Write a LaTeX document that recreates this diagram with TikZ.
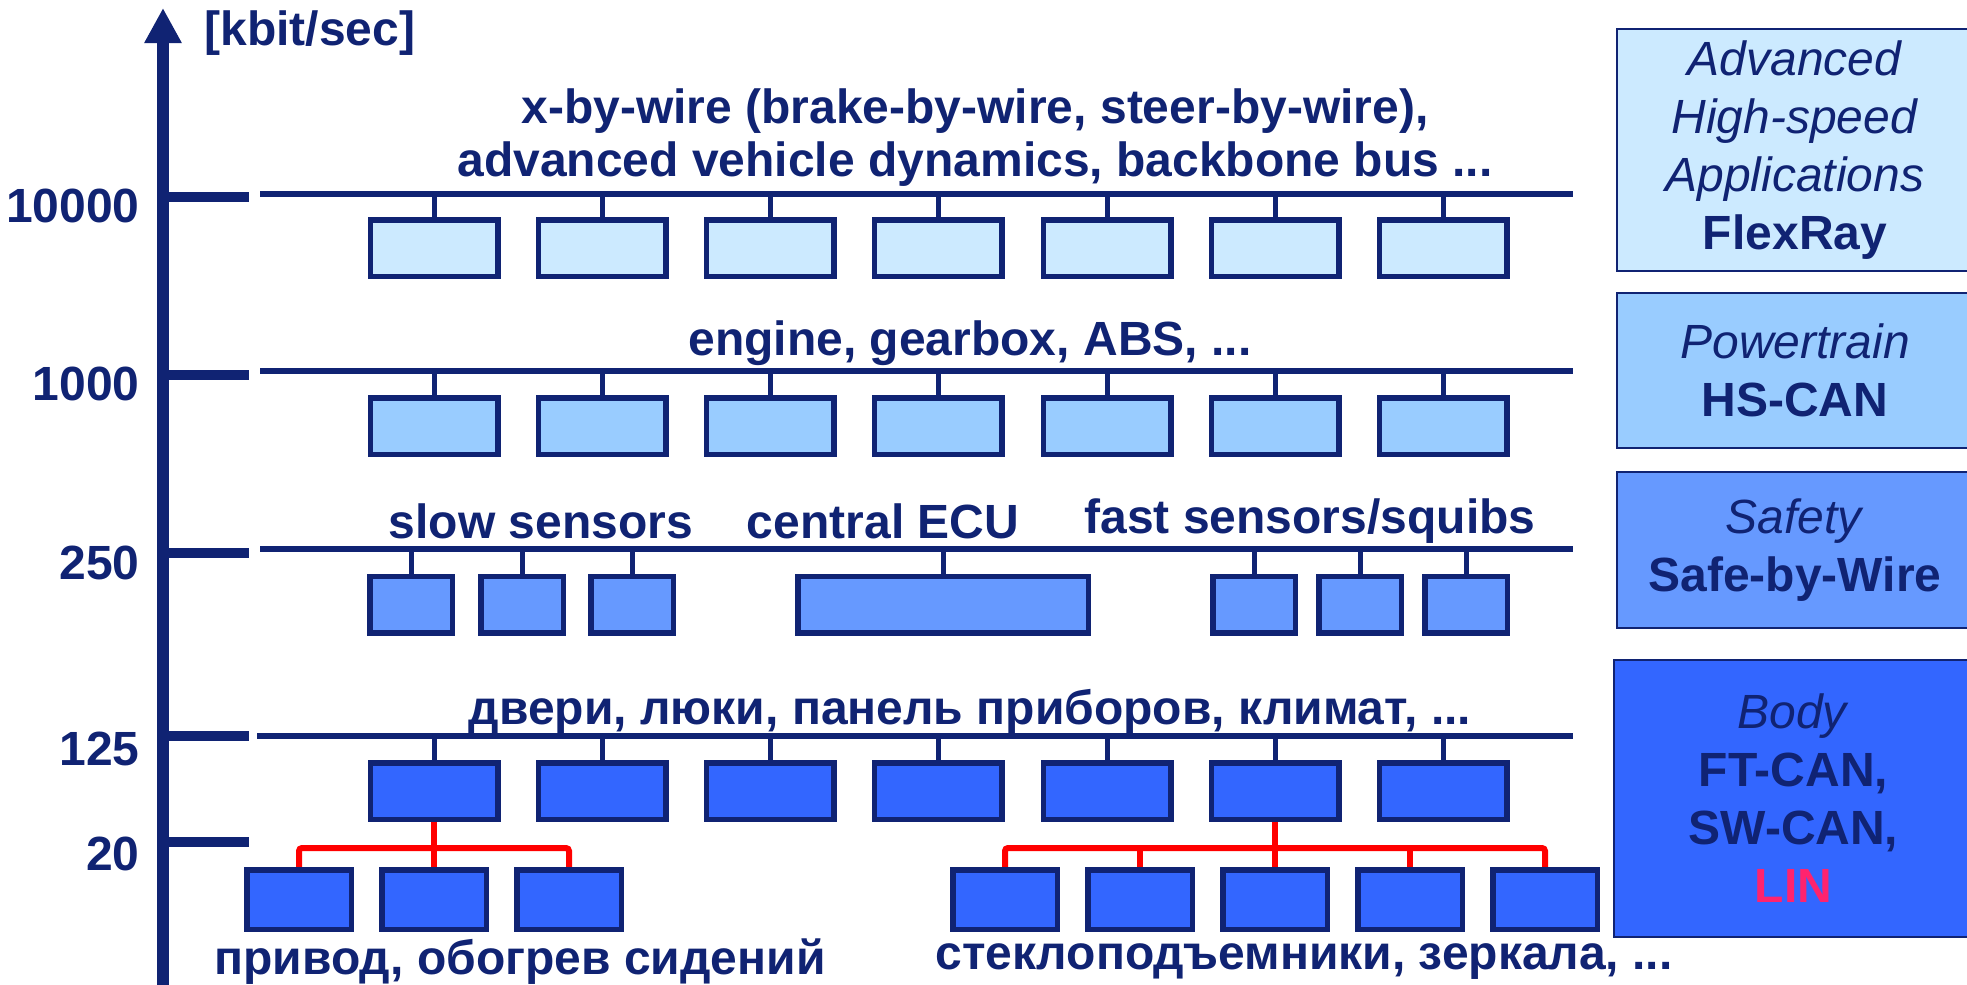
\documentclass[tikz,border=0pt]{standalone}
\usepackage{fontspec}
\setmainfont{Liberation Sans}
\usetikzlibrary{arrows.meta,positioning,backgrounds}

\definecolor{navy}{RGB}{16,35,115}
\definecolor{flexfill}{RGB}{204,234,255}
\definecolor{hsfill}{RGB}{153,204,255}
\definecolor{safefill}{RGB}{102,153,255}
\definecolor{bodyfill}{RGB}{51,102,255}
\definecolor{linred}{RGB}{255,0,0}
\definecolor{linpink}{RGB}{255,35,110}

\begin{document}
\begin{tikzpicture}[x=0.5pt, y=-0.5pt,
  ecu/.style={draw=navy, line width=2.75pt, inner sep=0pt,
              minimum width=63.75pt, minimum height=28.25pt},
  ecuA/.style={ecu, fill=flexfill},
  ecuB/.style={ecu, fill=hsfill},
  ecuS/.style={ecu, fill=safefill, minimum width=41.25pt},
  ecuC/.style={ecu, fill=bodyfill},
  ecuL/.style={ecu, fill=bodyfill, minimum width=52.25pt, minimum height=29.75pt},
  bus/.style={navy, line width=3pt},
  stub/.style={navy, line width=2.5pt},
  tick/.style={navy, line width=5pt},
  lin/.style={linred, line width=3pt, rounded corners=1.5pt},
  lbl/.style={font=\fontsize{24}{26.5}\selectfont\bfseries, text=navy, align=center, inner sep=0pt},
  net/.style={draw=navy, line width=1pt, align=center, text=navy, inner sep=0pt,
              minimum width=178pt, font=\fontsize{24}{29}\selectfont},
]
  \useasboundingbox (0,0) rectangle (1967,985);

  % rate axis
  \coordinate (ax-bot) at (163,995);
  \coordinate (ax-top) at (163,8);
  \draw[navy, line width=6pt, -{Triangle[width=17.5pt,length=17.5pt]}] (ax-bot) -- (ax-top);
  \node[lbl] (kbit) at (310,33) {[kbit/sec]};
  \draw[tick] (163,197) -- (249,197);
  \draw[tick] (163,375) -- (249,375);
  \draw[tick] (163,553) -- (249,553);
  \draw[tick] (163,736) -- (249,736);
  \draw[tick] (163,842) -- (249,842);
  \node[lbl, anchor=east] (r10000) at (140,206) {10000};
  \node[lbl, anchor=east] (r1000) at (140,384) {1000};
  \node[lbl, anchor=east] (r250) at (140,563) {250};
  \node[lbl, anchor=east] (r125) at (140,749) {125};
  \node[lbl, anchor=east] (r20) at (140,854) {20};

  % FlexRay bus
  \node[lbl] (flexapps) at (975,138) {x-by-wire (brake-by-wire, steer-by-wire),\\ advanced vehicle dynamics, backbone bus ...};
  \coordinate (busA-w) at (260,194); \coordinate (busA-e) at (1573,194);
  \draw[bus] (busA-w) -- (busA-e);
  \node[ecuA] (a1) at (434,248) {}; \node[ecuA] (a2) at (602,248) {};
  \node[ecuA] (a3) at (770,248) {}; \node[ecuA] (a4) at (938,248) {};
  \node[ecuA] (a5) at (1107,248) {}; \node[ecuA] (a6) at (1275,248) {};
  \node[ecuA] (a7) at (1443,248) {};

  % HS-CAN bus
  \node[lbl] (hsapps) at (970,343) {engine, gearbox, ABS, ...};
  \coordinate (busB-w) at (260,371); \coordinate (busB-e) at (1573,371);
  \draw[bus] (busB-w) -- (busB-e);
  \node[ecuB] (b1) at (434,426) {}; \node[ecuB] (b2) at (602,426) {};
  \node[ecuB] (b3) at (770,426) {}; \node[ecuB] (b4) at (938,426) {};
  \node[ecuB] (b5) at (1107,426) {}; \node[ecuB] (b6) at (1275,426) {};
  \node[ecuB] (b7) at (1443,426) {};

  % Safe-by-Wire bus
  \node[lbl] (slow) at (541,521) {slow sensors};
  \node[lbl] (central) at (883,521) {central ECU};
  \node[lbl] (fast) at (1310,521) {fast sensors/squibs};
  \coordinate (busS-w) at (260,549); \coordinate (busS-e) at (1573,549);
  \draw[bus] (busS-w) -- (busS-e);
  \node[ecuS] (s1) at (411,604.5) {}; \node[ecuS] (s2) at (522,604.5) {};
  \node[ecuS] (s3) at (632,604.5) {};
  \node[ecuS, minimum width=145.25pt] (cecu) at (943,604.5) {};
  \node[ecuS] (f1) at (1254,604.5) {}; \node[ecuS] (f2) at (1360,604.5) {};
  \node[ecuS] (f3) at (1466,604.5) {};

  % body CAN bus
  \node[lbl] (bodyapps) at (970,712) {двери, люки, панель приборов, климат, ...};
  \coordinate (busC-w) at (257,736); \coordinate (busC-e) at (1573,736);
  \draw[bus] (busC-w) -- (busC-e);
  \node[ecuC] (c1) at (434,791) {}; \node[ecuC] (c2) at (602,791) {};
  \node[ecuC] (c3) at (770,791) {}; \node[ecuC] (c4) at (938,791) {};
  \node[ecuC] (c5) at (1107,791) {}; \node[ecuC] (c6) at (1275,791) {};
  \node[ecuC] (c7) at (1443,791) {};

  % LIN sub-buses
  \node[ecuL] (l1) at (299,899.5) {}; \node[ecuL] (l2) at (434,899.5) {};
  \node[ecuL] (l3) at (569,899.5) {};
  \node[ecuL] (w1) at (1005,899.5) {}; \node[ecuL] (w2) at (1140,899.5) {};
  \node[ecuL] (w3) at (1275,899.5) {}; \node[ecuL] (w4) at (1410,899.5) {};
  \node[ecuL] (w5) at (1545,899.5) {};
  \coordinate (jl) at (434,848); \coordinate (jr) at (1275,848);
  \node[lbl] (seats) at (520,962) {привод, обогрев сидений};
  \node[lbl] (windows) at (1304,962) {стеклоподъемники, зеркала, ...};

  \begin{scope}[on background layer]
    \foreach \n in {a1,a2,a3,a4,a5,a6,a7} \draw[stub] (\n.north) -- (\n.north |- busA-w);
    \foreach \n in {b1,b2,b3,b4,b5,b6,b7} \draw[stub] (\n.north) -- (\n.north |- busB-w);
    \foreach \n in {s1,s2,s3,cecu,f1,f2,f3} \draw[stub] (\n.north) -- (\n.north |- busS-w);
    \foreach \n in {c1,c2,c3,c4,c5,c6,c7} \draw[stub] (\n.north) -- (\n.north |- busC-w);
    \draw[lin] (c1.south) -- (l2.north);
    \draw[lin] (l1.north) -- (l1.north |- jl) -- (l3.north |- jl) -- (l3.north);
    \draw[lin] (c6.south) -- (w3.north);
    \draw[lin] (w1.north) -- (w1.north |- jr) -- (w5.north |- jr) -- (w5.north);
    \draw[lin] (w2.north) -- (w2.north |- jr); \draw[lin] (w4.north) -- (w4.north |- jr);
  \end{scope}

  % network classes
  \node[net, fill=flexfill, minimum height=121pt] (flexray) at (1795,150)
    {\textit{Advanced}\\ \textit{High-speed}\\ \textit{Applications}\\ \textbf{FlexRay}};
  \node[net, fill=hsfill, minimum height=77.5pt] (hscan) at (1795,370.5)
    {\textit{Powertrain}\\ \textbf{HS-CAN}};
  \node[net, fill=safefill, minimum height=78pt] (sbw) at (1795,550)
    {\textit{Safety}\\ \textbf{Safe-by-Wire}};
  \node[net, fill=bodyfill, minimum width=179.5pt, minimum height=138.5pt] (body) at (1793.5,798.5)
    {\textit{Body}\\ \textbf{FT-CAN,}\\ \textbf{SW-CAN,}\\ \textbf{\textcolor{linpink}{LIN}}};
\end{tikzpicture}
\end{document}
